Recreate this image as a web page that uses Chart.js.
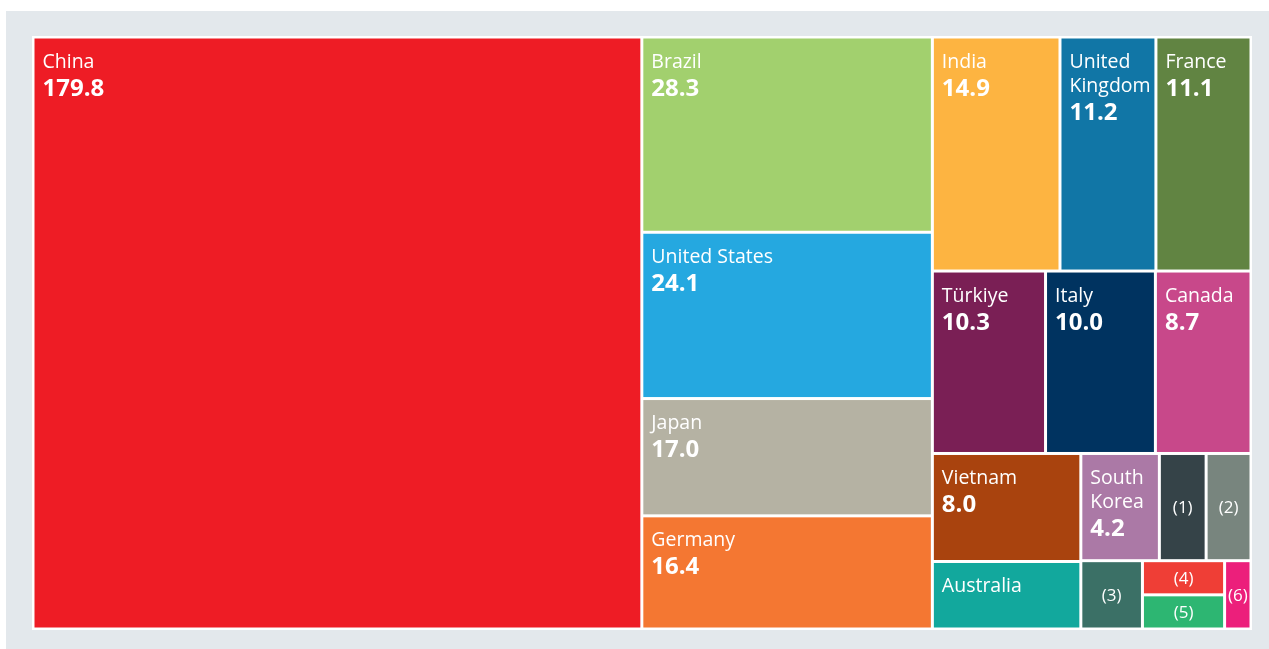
<!DOCTYPE html>
<html><head><meta charset="utf-8">
<script src="https://cdn.jsdelivr.net/npm/chart.js@4/dist/chart.umd.min.js"></script>
<style>html,body{margin:0;padding:0;background:#fff;overflow:hidden}canvas{display:block}</style>
</head><body>
<canvas id="c" width="1269" height="649"></canvas>
<script>
// ---- data ----
const countries = ["China","Brazil","United States","Japan","Germany","India","United Kingdom","France","Türkiye","Italy","Canada","Vietnam","Australia","South Korea","(1)","(2)","(3)","(4)","(5)","(6)"];
const values = [179.8,28.3,24.1,17.0,16.4,14.9,11.2,11.1,10.3,10.0,8.7,8.0,5.0,4.2,2.5,2.4,2.1,1.4,1.4,0.9];
const valueLabels = ["179.8","28.3","24.1","17.0","16.4","14.9","11.2","11.1","10.3","10.0","8.7","8.0","","4.2","","","","","",""];
const centeredLabel = [false,false,false,false,false,false,false,false,false,false,false,false,false,false,true,true,true,true,true,true];
const colors = ["#EE1C25","#A2D06E","#25A8E0","#B5B2A3","#F47732","#FDB441","#1176A6","#618442","#7A1F55","#003360","#C8488A","#A9430E","#12A89D","#AB79A6","#354348","#78857E","#3B7066","#EF3E36","#2DB672","#EC1F7B"];

const FONT = '"Open Sans", "Noto Sans", sans-serif';
const PHI = (1 + Math.sqrt(5)) / 2;

// squarified layout (golden ratio target), values sorted descending
function squarify(vals, x0, y0, x1, y1) {
  const idx = vals.map((v, i) => i).sort((a, b) => vals[b] - vals[a]);
  const out = new Array(vals.length);
  let value = idx.reduce((s, i) => s + vals[i], 0);
  let i0 = 0, i1 = 0; const n = idx.length;
  while (i0 < n) {
    const dx = x1 - x0, dy = y1 - y0;
    let sum = vals[idx[i1++]];
    let minV = sum, maxV = sum;
    const alpha = Math.max(dy / dx, dx / dy) / (value * PHI);
    let beta = sum * sum * alpha;
    let minRatio = Math.max(maxV / beta, beta / minV);
    for (; i1 < n; ++i1) {
      const nv = vals[idx[i1]];
      sum += nv;
      if (nv < minV) minV = nv;
      if (nv > maxV) maxV = nv;
      beta = sum * sum * alpha;
      const r = Math.max(maxV / beta, beta / minV);
      if (r > minRatio) { sum -= nv; break; }
      minRatio = r;
    }
    const row = idx.slice(i0, i1);
    if (dx < dy) { // dice: horizontal row at top
      const ny = y0 + dy * sum / value;
      let x = x0;
      row.forEach(i => { const w = dx * vals[i] / sum; out[i] = [x, y0, x + w, ny]; x += w; });
      y0 = ny;
    } else { // slice: vertical column at left
      const nx = x0 + dx * sum / value;
      let y = y0;
      row.forEach(i => { const h = dy * vals[i] / sum; out[i] = [x0, y, nx, y + h]; y += h; });
      x0 = nx;
    }
    value -= sum; i0 = i1;
  }
  return out;
}

const bgPlugin = {
  id: 'bg',
  beforeDraw(chart) {
    const ctx = chart.ctx, a = chart.chartArea;
    ctx.save();
    ctx.fillStyle = '#ffffff';
    ctx.fillRect(0, 0, chart.width, chart.height);
    ctx.fillStyle = '#E3E8EC';
    ctx.fillRect(a.left - 27, a.top - 26, chart.width - (a.left - 27), chart.height - (a.top - 26));
    ctx.fillStyle = '#ffffff';
    ctx.fillRect(a.left - 1, a.top - 1, a.right - a.left + 2, a.bottom - a.top + 2);
    ctx.restore();
  }
};

const treemapPlugin = {
  id: 'treemap',
  afterDatasetsDraw(chart) {
    const ctx = chart.ctx, xs = chart.scales.x, ys = chart.scales.y;
    const W = xs.getPixelForValue(1) - xs.getPixelForValue(0);
    const H = ys.getPixelForValue(1) - ys.getPixelForValue(0);
    const rects = squarify(values, 0, 0, W, H);
    const inset = 1.5, pad = 8;
    ctx.save();
    rects.forEach((r, i) => {
      const L = xs.getPixelForValue(r[0] / W) + inset;
      const R = xs.getPixelForValue(r[2] / W) - inset;
      const T = ys.getPixelForValue(r[1] / H) + inset;
      const B = ys.getPixelForValue(r[3] / H) - inset;
      ctx.fillStyle = colors[i];
      ctx.fillRect(L, T, R - L, B - T);
      ctx.fillStyle = '#ffffff';
      if (centeredLabel[i]) {
        ctx.font = '17px ' + FONT;
        ctx.textAlign = 'center';
        ctx.textBaseline = 'middle';
        ctx.fillText(countries[i], (L + R) / 2, (T + B) / 2 + 1);
        return;
      }
      ctx.textAlign = 'left';
      ctx.textBaseline = 'alphabetic';
      ctx.font = '19.5px ' + FONT;
      const maxW = R - L - 2 * pad;
      const words = countries[i].split(' ');
      const lines = [];
      let cur = '';
      words.forEach(w => {
        const t = cur ? cur + ' ' + w : w;
        if (cur && ctx.measureText(t).width > maxW) { lines.push(cur); cur = w; }
        else cur = t;
      });
      if (cur) lines.push(cur);
      let y = T + 29;
      lines.forEach((ln, k) => { ctx.fillText(ln, L + pad, y); if (k < lines.length - 1) y += 24; });
      if (valueLabels[i]) {
        ctx.font = 'bold 24px ' + FONT;
        ctx.fillText(valueLabels[i], L + pad, y + 28);
      }
    });
    ctx.restore();
  }
};

new Chart(document.getElementById('c'), {
  type: 'scatter',
  data: { datasets: [{ data: [], label: 'cells' }] },
  options: {
    responsive: false,
    animation: false,
    devicePixelRatio: 1,
    layout: { padding: { left: 33, top: 37, right: 18, bottom: 20 } },
    scales: {
      x: { type: 'linear', min: 0, max: 1, display: false },
      y: { type: 'linear', min: 0, max: 1, reverse: true, display: false }
    },
    plugins: { legend: { display: false }, tooltip: { enabled: false } }
  },
  plugins: [bgPlugin, treemapPlugin]
});
</script>
</body></html>
